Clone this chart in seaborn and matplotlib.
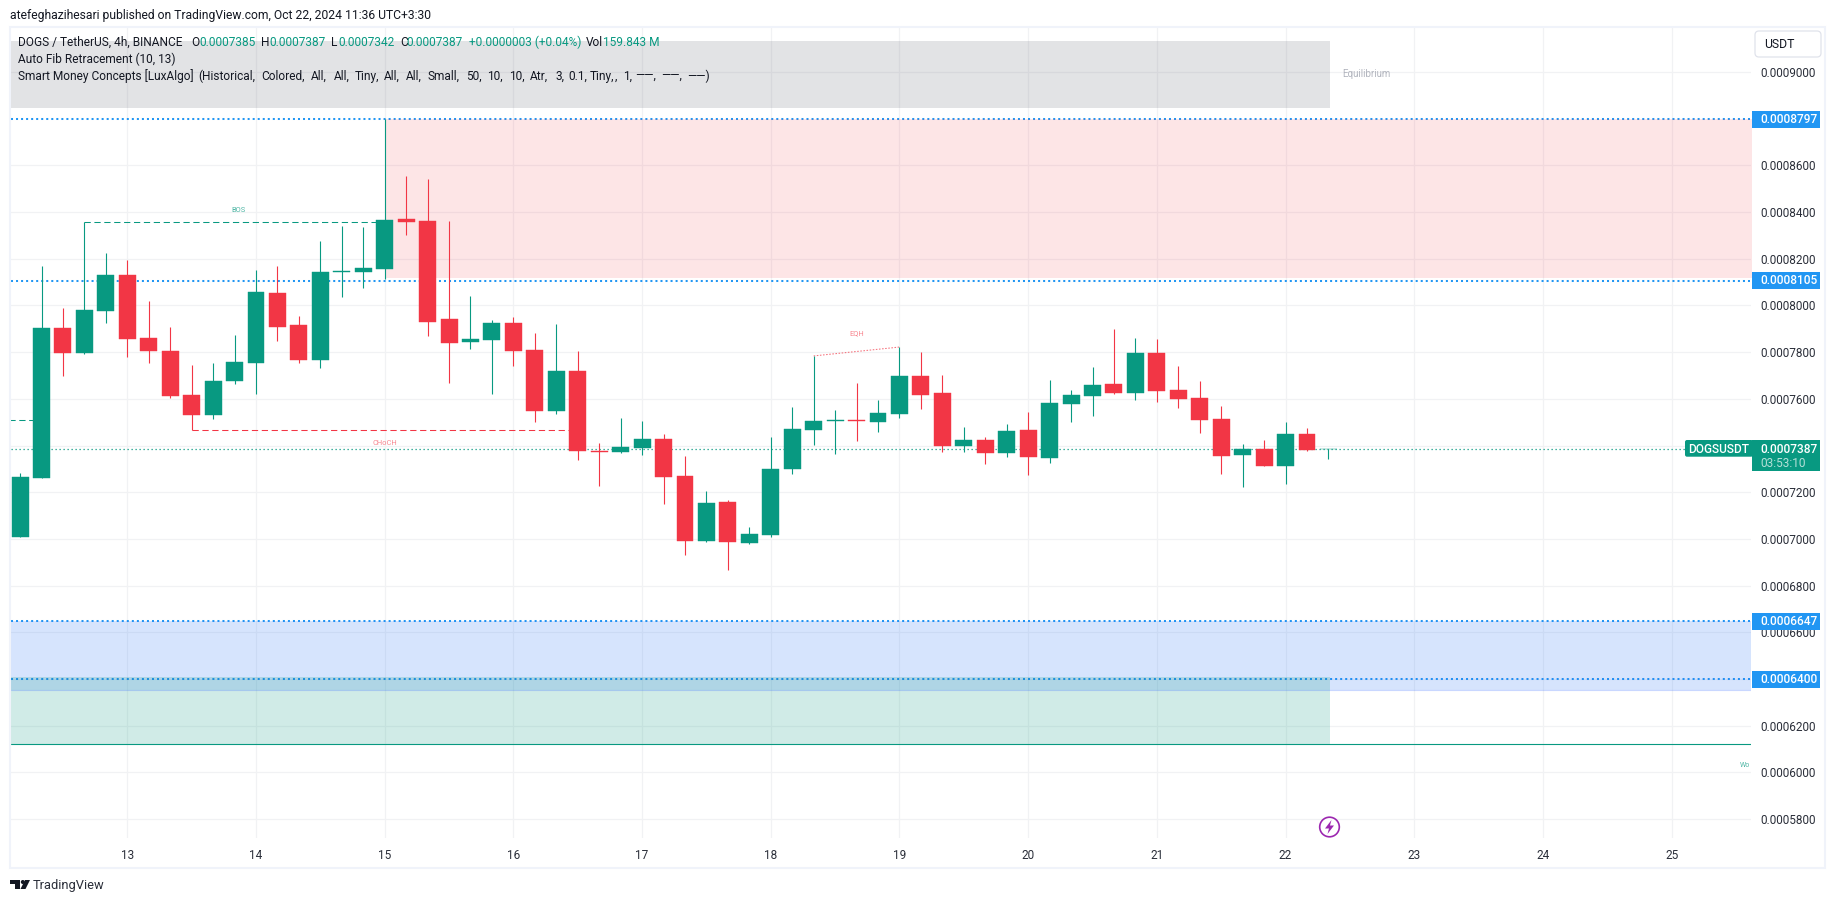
import numpy as np
import pandas as pd
import matplotlib.pyplot as plt
from matplotlib.patches import Rectangle, Circle, Polygon, FancyBboxPatch
from matplotlib.transforms import Affine2D, blended_transform_factory
import seaborn as sns

# ── Data (prices in units of 1e-7 USDT, bars are 4h) ───────────────────────────
opens = [7010, 7261, 7904, 7797, 7976, 8131, 7861, 7805, 7617, 7531, 7677, 7754, 8054, 7917, 7767, 8144,
         8144, 8156, 8370, 8362, 7942, 7844, 7852, 7925, 7809, 7548, 7720, 7377, 7373, 7390, 7428, 7270,
         6991, 7158, 6983, 7017, 7300, 7467, 7505, 7510, 7501, 7535, 7698, 7625, 7398, 7424, 7368, 7467,
         7347, 7578, 7612, 7664, 7625, 7797, 7638, 7604, 7514, 7360, 7385, 7313, 7450, 7385]
closes = [7266, 7904, 7797, 7981, 8131, 7857, 7805, 7612, 7531, 7677, 7758, 8058, 7908, 7767, 8144, 8148,
          8161, 8366, 8358, 7929, 7839, 7857, 7925, 7805, 7548, 7720, 7377, 7373, 7394, 7428, 7265, 6991,
          7154, 6987, 7021, 7300, 7471, 7505, 7510, 7505, 7540, 7698, 7617, 7398, 7424, 7368, 7463, 7351,
          7582, 7617, 7660, 7625, 7797, 7634, 7600, 7510, 7355, 7385, 7313, 7450, 7381, 7387]
highs = [7283, 8169, 7989, 8356, 8225, 8195, 8019, 7908, 7745, 7754, 7874, 8152, 8169, 7955, 8276, 8341,
         8336, 8797, 8555, 8542, 8362, 8041, 7938, 7951, 7882, 7921, 7805, 7411, 7518, 7505, 7450, 7355,
         7206, 7167, 7051, 7437, 7565, 7784, 7552, 7668, 7595, 7822, 7801, 7702, 7480, 7437, 7492, 7544,
         7681, 7638, 7737, 7899, 7861, 7857, 7741, 7677, 7570, 7407, 7424, 7501, 7475, 7387]
lows = [7010, 7261, 7698, 7792, 7925, 7779, 7754, 7604, 7465, 7514, 7664, 7621, 7848, 7754, 7732, 8036,
        8075, 8114, 8302, 7869, 7668, 7814, 7621, 7741, 7501, 7535, 7338, 7227, 7368, 7360, 7150, 6931,
        6987, 6867, 6979, 7009, 7278, 7403, 7364, 7420, 7458, 7518, 7557, 7373, 7373, 7321, 7351, 7274,
        7325, 7501, 7527, 7621, 7595, 7587, 7561, 7454, 7278, 7223, 7313, 7236, 7377, 7342]

price_ticks = [5800, 6000, 6200, 6400, 6600, 6800, 7000, 7200, 7400, 7600, 7800, 8000, 8200, 8400, 8600, 9000]
price_labels = ["0.0005800", "0.0006000", "0.0006200", "", "0.0006600", "0.0006800", "0.0007000", "0.0007200",
                "", "0.0007600", "0.0007800", "0.0008000", "0.0008200", "0.0008400", "0.0008600", "0.0009000"]
day_labels = ["13", "14", "15", "16", "17", "18", "19", "20", "21", "22", "23", "24", "25"]
day_ticks = [6, 12, 18, 24, 30, 36, 42, 48, 54, 60, 66, 72, 78]

fib_levels = [8797, 8105, 6647, 6400]
fib_labels = ["0.0008797", "0.0008105", "0.0006647", "0.0006400"]
last_price = 7387
premium_zone = (8116, 8797)
equilibrium_zone = (8846, 9133)
discount_zone = (6353, 6647)
demand_zone = (6121, 6408)

GREEN = "#089981"
RED = "#f23645"
BLUE = "#2196f3"
TEXT = "#131722"

sns.set_theme(style="white")
plt.rcParams["font.family"] = ["Roboto", "DejaVu Sans"]

W, H = 1835, 903
fig = plt.figure(figsize=((W + 0.01) / 100, (H + 0.01) / 100), dpi=100, facecolor="white")
PX = Affine2D().scale(1, -1).translate(0, H)  # pixels from the top left corner
ax = fig.add_axes([11 / W, 1 - 838 / H, 1740 / W, 810 / H])
ax.set_facecolor("white")

df = pd.DataFrame({"idx": np.arange(1, len(opens) + 1), "o": opens, "c": closes, "h": highs, "l": lows})
df["bottom"] = df[["o", "c"]].min(axis=1)
df["body"] = (df["o"] - df["c"]).abs()
df["up"] = df["c"] >= df["o"]

# ── Zones and levels ───────────────────────────────────────────────────────────
trans = blended_transform_factory(ax.transAxes, ax.transData)
last_x = 62.05
for y in fib_levels:
    ax.axhline(y, color=BLUE, lw=1.45, ls=(0, (1, 1.5)), zorder=2)
ax.fill_between([18, 90], *premium_zone, color=RED, alpha=0.13, lw=0, zorder=3)
ax.fill_between([0, last_x], *equilibrium_zone, color="#787b86", alpha=0.21, lw=0, zorder=3)
ax.fill_between([0, 90], *discount_zone, color="#2a73f8", alpha=0.19, lw=0, zorder=3)
ax.fill_between([0, last_x], *demand_zone, color=GREEN, alpha=0.19, lw=0, zorder=3)
ax.axhline(discount_zone[0], color="#2962ff", alpha=0.25, lw=0.8, zorder=3)
ax.axhline(demand_zone[0], color=GREEN, lw=0.8, zorder=4)
ax.axhline(last_price, color=GREEN, lw=0.9, ls=(0, (1, 2.2)), zorder=4)

# market structure lines
ax.plot([0, 2], [7508, 7508], color=GREEN, lw=0.75, ls=(0, (6, 3.5)), zorder=4)
ax.plot([4, 18], [8356, 8356], color=GREEN, lw=0.75, ls=(0, (6, 3.5)), zorder=4)
ax.plot([9, 27], [7465, 7465], color=RED, lw=0.75, ls=(0, (6, 3.5)), zorder=4)
ax.plot([38, 42], [7784, 7822], color=RED, alpha=0.7, lw=0.75, ls=(0, (1.5, 1.5)), zorder=4)

# ── Candles ────────────────────────────────────────────────────────────────────
for up, color in [(True, GREEN), (False, RED)]:
    sub = df[df["up"] == up]
    ax.vlines(sub["idx"], sub["l"], sub["h"], color=color, lw=0.8, zorder=5)
    sns.barplot(data=sub, x="idx", y="body", bottom=sub["bottom"].to_numpy(), native_scale=True, orient="x",
                width=0.79, color=color, saturation=1, errorbar=None, edgecolor=color, linewidth=0.3,
                zorder=6, ax=ax)

# ── Axes ───────────────────────────────────────────────────────────────────────
ax.set_xlim(0.578, 81.7)
ax.set_ylim(5719.4, 9188.4)
ax.set_xlabel("")
ax.set_ylabel("")
ax.yaxis.tick_right()
ax.set_yticks(price_ticks, price_labels)
ax.set_xticks(day_ticks, day_labels)
ax.tick_params(axis="both", length=0, labelsize=8.5, labelcolor="#2a2e39")
ax.tick_params(axis="y", pad=6.4)
ax.tick_params(axis="x", pad=8)
ax.set_axisbelow(True)
ax.grid(True, color="#f1f2f4", lw=0.9)
for s in ax.spines.values():
    s.set_visible(False)

ax.text(11.2, 8408, "BOS", color=GREEN, alpha=0.7, fontsize=5.4, ha="center", va="center", zorder=7)
ax.text(18, 7409, "CHoCH", color=RED, alpha=0.6, fontsize=5.4, ha="center", va="center", zorder=7)
ax.text(40, 7878, "EQH", color=RED, alpha=0.6, fontsize=5.4, ha="center", va="center", zorder=7)
ax.text(62.62, 8990, "Equilibrium", color="#b2b5be", fontsize=7, va="center", zorder=7)
ax.text(0.9995, 6031, "Wo", color=GREEN, alpha=0.7, fontsize=5, ha="right", va="center", transform=trans, zorder=7)


# ── Price scale badges ─────────────────────────────────────────────────────────
def badge(x0, x1, y0, y1, color):
    fig.add_artist(Rectangle((x0, y0), x1 - x0, y1 - y0, fc=color, ec="none", transform=PX, zorder=3))


for y, label in zip(fib_levels, fib_labels):
    py = 72 + (9000 - y) / 4.2827
    badge(1752, 1820, py - 8.5, py + 8.5, BLUE)
    fig.text(1760, py, label, color="white", fontsize=8.6, fontweight="medium", va="center", transform=PX, zorder=4)

badge(1752, 1820, 440, 471, GREEN)
fig.text(1760, 449, "0.0007387", color="white", fontsize=8.6, fontweight="medium", va="center", transform=PX, zorder=4)
fig.text(1760, 463, "03:53:10", color="#b5e0d8", fontsize=8.6, va="center", transform=PX, zorder=4)
fig.add_artist(FancyBboxPatch((1687, 442), 64, 12.7, boxstyle="round,pad=2,rounding_size=2", fc=GREEN, ec="none",
                              transform=PX, zorder=3))
fig.text(1718.5, 449, "DOGSUSDT", color="white", fontsize=8.6, fontweight="medium", ha="center", va="center",
         transform=PX, zorder=4)

fig.add_artist(FancyBboxPatch((1757, 33), 62, 22, boxstyle="round,pad=2,rounding_size=4", fc="white", ec="#e0e3eb",
                              lw=0.9, transform=PX, zorder=3))
fig.text(1764, 44.5, "USDT", color=TEXT, fontsize=8.8, va="center", transform=PX, zorder=4)

# ── Header and legend text ─────────────────────────────────────────────────────
fig.text(9.5, 15, "atefeghazihesari published on TradingView.com, Oct 22, 2024 11:36 UTC+3:30", color=TEXT,
         fontsize=8.75, va="center", transform=PX)
legend_parts = [
    (18, "DOGS / TetherUS, 4h, BINANCE", TEXT), (191, "O", TEXT), (199.5, "0.0007385", GREEN),
    (261.5, "H", TEXT), (269, "0.0007387", GREEN), (331, "L", TEXT), (338, "0.0007342", GREEN),
    (400, "C", TEXT), (406.7, "0.0007387", GREEN), (469, "+0.0000003 (+0.04%)", GREEN),
    (586, "Vol", TEXT), (603, "159.843 M", GREEN),
]
for x, s, c in legend_parts:
    fig.text(x, 42, s, color=c, fontsize=8.6, va="center", transform=PX)
fig.text(18, 59, "Auto Fib Retracement (10, 13)", color=TEXT, fontsize=8.6, va="center", transform=PX)
# the source spaces this row wider than Roboto does, so place it piece by piece
row3_parts = [
    (18, "Smart Money Concepts [LuxAlgo]"), (198.6, "(Historical,"), (260.8, "Colored,"), (311, "All,"),
    (333.5, "All,"), (355, "Tiny,"), (384, "All,"), (406, "All,"), (428, "Small,"), (466.5, "50,"), (487, "10,"),
    (508.6, "10,"), (530, "Atr,"), (556, "3,"), (568, "0.1,"), (589.5, "Tiny,"), (615, ","), (623.5, "1,"),
    (635, "\u2014\u2014,"), (661, "\u2014\u2014,"), (687.5, "\u2014\u2014)"),
]
for x, s in row3_parts:
    fig.text(x, 76, s, color=TEXT, fontsize=8.6, va="center", transform=PX)

# ── Frame, logo and icon ───────────────────────────────────────────────────────
fig.add_artist(Rectangle((10, 27), 1815, 841, fc="none", ec="#f0f3fa", lw=1.5, transform=PX, zorder=2))

fig.add_artist(Polygon([(10, 880), (20, 880), (20, 889), (15, 889), (15, 884), (10, 884)], fc=TEXT, ec="none",
                       transform=PX, zorder=3))
fig.add_artist(Circle((22.8, 882), 2, fc=TEXT, ec="none", transform=PX, zorder=3))
fig.add_artist(Polygon([(25, 880), (30, 880), (25.5, 889), (20.5, 889)], fc=TEXT, ec="none", transform=PX, zorder=3))
fig.text(33, 885, "TradingView", color="#2a2e39", fontsize=9.3, va="center", transform=PX)

fig.add_artist(Circle((1329.5, 827), 9.8, fc="white", ec="#9c27b0", lw=1.2, transform=PX, zorder=3))
fig.add_artist(Polygon([(1331.5, 820), (1325, 828.5), (1329, 828.5), (1327.5, 834), (1334, 825.5), (1330, 825.5)],
                       fc="#9c27b0", ec="none", transform=PX, zorder=4))

fig.savefig("out.png", dpi=100, facecolor="white")
